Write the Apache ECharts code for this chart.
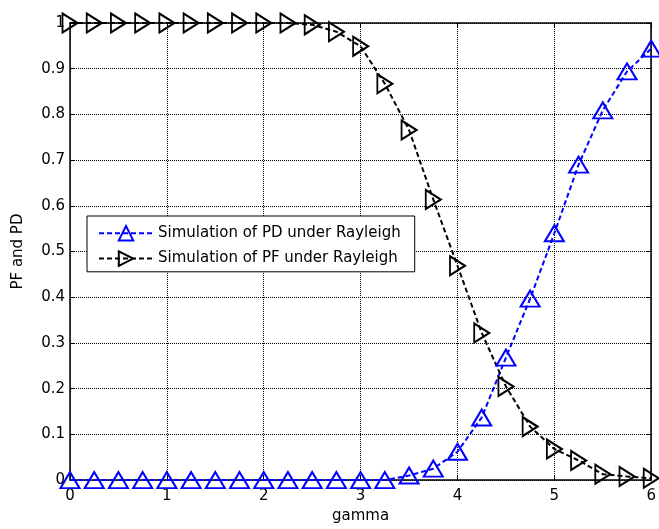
<!DOCTYPE html>
<html><head><meta charset="utf-8">
<script src="https://cdn.jsdelivr.net/npm/echarts@6/dist/echarts.min.js"></script>
<style>html,body{margin:0;padding:0;background:#fff}#c{width:659px;height:529px}</style>
</head><body><div id="c"></div>
<script>
var gamma = [0,0.25,0.5,0.75,1,1.25,1.5,1.75,2,2.25,2.5,2.75,3,3.25,3.5,3.75,4,4.25,4.5,4.75,5,5.25,5.5,5.75,6];
var pd = [0,0,0,0,0,0,0,0,0,0,0,0,0,0,0.010,0.025,0.062,0.137,0.268,0.397,0.540,0.690,0.809,0.894,0.944];
var pf = [1,1,1,1,1,1,1,1,1,1,0.996,0.981,0.949,0.867,0.766,0.614,0.469,0.322,0.205,0.117,0.068,0.043,0.013,0.008,0.004];
var xTicks = [0,1,2,3,4,5,6];
var yTicks = [0,0.1,0.2,0.3,0.4,0.5,0.6,0.7,0.8,0.9,1];
var font = 'DejaVu Sans, Liberation Sans, Arial, sans-serif';
var fs = 15;
function pairs(xs, ys){ return xs.map(function(x,i){return [x, ys[i]];}); }
var chart = echarts.init(document.getElementById('c'));
var axisCommon = {
  axisLine:{show:true,onZero:false,lineStyle:{color:'#000',width:1.5}},
  axisTick:{show:true,inside:true,length:5,lineStyle:{color:'#000'}},
};
chart.setOption({
  animation:false,
  backgroundColor:'#fff',
  grid:{left:70,right:7,top:23,bottom:47},
  legend:{
    orient:'vertical', left:87, top:216,
    backgroundColor:'#fff', borderColor:'#000', borderWidth:1,
    padding:[9,14,5,11], itemGap:9, itemWidth:54, itemHeight:18,
    textStyle:{fontFamily:font,fontSize:fs,color:'#000'},
    data:['Simulation of PD under Rayleigh','Simulation of PF under Rayleigh']
  },
  xAxis:[
    Object.assign({type:'value',min:0,max:6,interval:1,position:'bottom',
      name:'gamma',nameLocation:'middle',nameGap:28,
      nameTextStyle:{fontFamily:font,fontSize:fs,color:'#000'},
      axisLabel:{fontFamily:font,fontSize:fs,color:'#000',margin:9,
        formatter:function(v){return xTicks.indexOf(v)>=0?String(v):'';}},
      splitLine:{show:true,lineStyle:{color:'#000',type:[1,1],width:1}}},axisCommon),
    Object.assign({type:'value',min:0,max:6,interval:1,position:'top',
      axisLabel:{show:false},splitLine:{show:false}},axisCommon)
  ],
  yAxis:[
    Object.assign({type:'value',min:0,max:1,interval:0.1,position:'left',
      name:'PF and PD',nameLocation:'middle',nameGap:44,
      nameTextStyle:{fontFamily:font,fontSize:fs,color:'#000'},
      axisLabel:{fontFamily:font,fontSize:fs,color:'#000',margin:5,
        formatter:function(v){var r=Math.round(v*10)/10;return yTicks.indexOf(r)>=0?String(r):'';}},
      splitLine:{show:true,lineStyle:{color:'#000',type:[1,1],width:1}}},axisCommon),
    Object.assign({type:'value',min:0,max:1,interval:0.1,position:'right',
      axisLabel:{show:false},splitLine:{show:false}},axisCommon)
  ],
  series:[
    {name:'Simulation of PD under Rayleigh',type:'line',data:pairs(gamma,pd),clip:false,
     symbol:'triangle',symbolSize:[19,16],showAllSymbol:true,
     lineStyle:{color:'#0000ff',width:2,type:[5,3]},
     itemStyle:{color:'rgba(255,255,255,0)',borderColor:'#0000ff',borderWidth:2}},
    {name:'Simulation of PF under Rayleigh',type:'line',data:pairs(gamma,pf),clip:false,
     symbol:'path://M0,0 L10,6 L0,12 Z',symbolSize:[15,19],showAllSymbol:true,
     lineStyle:{color:'#000',width:2,type:[5,3]},
     itemStyle:{color:'rgba(255,255,255,0)',borderColor:'#000',borderWidth:2}}
  ]
});
</script></body></html>
